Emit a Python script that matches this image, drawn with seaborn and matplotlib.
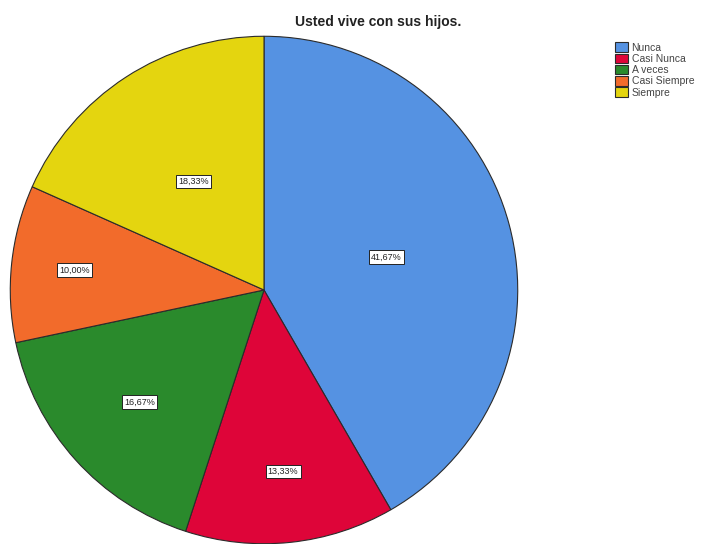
import numpy as np
import seaborn as sns
import matplotlib.pyplot as plt

# answers to "Usted vive con sus hijos."
categorias = ['Nunca', 'Casi Nunca', 'A veces', 'Casi Siempre', 'Siempre']
porcentajes = [41.67, 13.33, 16.67, 10.00, 18.33]
colores = ['#5592E2', '#DE0539', '#2A8A2C', '#F26B2B', '#E4D50F']

sns.set_theme(style='white')
plt.rcParams['font.family'] = ['Liberation Sans', 'DejaVu Sans']

fig = plt.figure(figsize=(7.22, 5.44), dpi=100)
# square axes so the pie sits where the SPSS output puts it
ax = fig.add_axes([9 / 722, -1 / 544, 510 / 722, 510 / 544])

wedges, textos, autotextos = ax.pie(
    porcentajes, colors=colores, startangle=90, counterclock=False,
    radius=1, autopct=lambda p: f'{p:.2f}%'.replace('.', ','),
    wedgeprops=dict(edgecolor='#2b2b2b', linewidth=0.8))
ax.set_xlim(-1.005, 1.005)
ax.set_ylim(-1.005, 1.005)
ax.set_aspect('equal')
ax.axis('off')

# SPSS puts the labels a bit off the usual spot, so move them per slice
dist = [0.5, 0.72, 0.66, 0.75, 0.51]
for w, t, d in zip(wedges, autotextos, dist):
    ang = np.deg2rad((w.theta1 + w.theta2) / 2)
    t.set_position((d * np.cos(ang), d * np.sin(ang)))
    t.set_fontsize(6.5)
    t.set_color('#222222')
    t.set_bbox(dict(boxstyle='square,pad=0.25', fc='white', ec='#222222', lw=0.7))

fig.text(378 / 722, 1 - 22 / 544, 'Usted vive con sus hijos.', ha='center', va='center',
         fontsize=10, fontweight='bold', color='#222222')

fig.legend(wedges, categorias, loc='upper left', bbox_to_anchor=(606 / 722, 1 - 33 / 544),
           frameon=False, fontsize=7.5, handlelength=1.2, handleheight=1.0,
           handletextpad=0.35, labelspacing=0.1, labelcolor='#444444')

plt.savefig('out.png', dpi=100)
